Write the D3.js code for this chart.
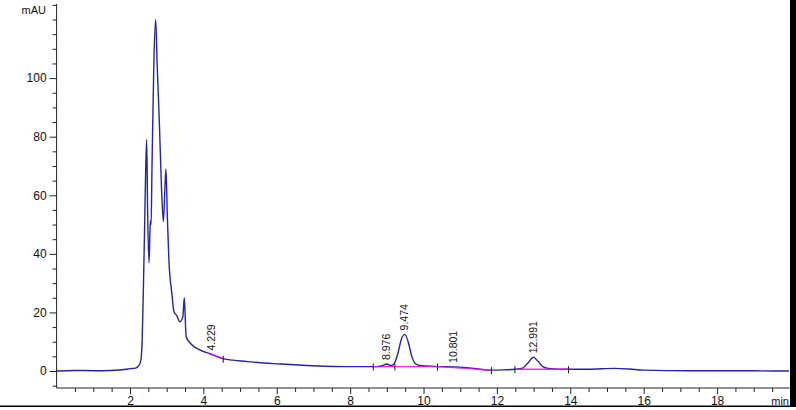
<!DOCTYPE html>
<html><head><meta charset="utf-8">
<script src="https://cdn.jsdelivr.net/npm/d3@7"></script>
<style>
html,body{margin:0;padding:0;background:#fff;}
svg{display:block;font-family:"Liberation Sans",Arial,sans-serif;}
</style></head>
<body>
<svg id="c" width="796" height="410"></svg>
<script>
// ---- data ----
const timeMin = [0.0,0.5,1.0,1.5,1.9,2.0,2.15,2.25,2.3,2.33,2.36,2.40,2.43,2.455,2.48,2.52,2.545,2.56,2.575,2.60,2.65,2.70,2.74,2.80,2.86,2.91,2.95,2.98,3.02,3.06,3.14,3.20,3.27,3.36,3.44,3.48,3.53,3.65,3.9,4.2,4.5,5.2,6.1,7.0,7.9,8.7,8.85,9.0,9.12,9.2,9.3,9.4,9.49,9.58,9.68,9.78,9.9,10.3,10.9,11.3,11.8,12.2,12.5,12.7,12.85,12.99,13.12,13.25,13.4,13.9,14.5,15.2,15.6,16.0,17.2,19.0,19.5,19.96];
const signal  = [0.0,0.2,0.1,0.2,0.6,0.8,1.0,2.0,4.0,10,25,50,70,79,55,37,48,51.5,50,70,105,120,105,85,62,51,62,69,52,38,26.6,20.2,19,16.8,18.5,25,11.7,9.4,7.2,5.8,4.3,3.2,2.4,1.8,1.5,1.5,1.7,2.4,1.8,2.5,6,11,12.5,10,5,2.5,1.9,1.6,1.4,1.0,0.3,0.4,0.6,1.0,2.8,4.7,3.3,1.5,0.9,0.6,0.6,0.9,0.7,0.3,0.1,0.1,0.0,0.0];

const peakRT     = [4.229, 8.976, 9.474, 10.801, 12.991];
const peakLabels = ["4.229","8.976","9.474","10.801","12.991"];
const peakApex   = [5.6, 2.4, 12.5, 1.4, 4.7];

const baseStartT = [4.13, 8.63, 10.38, 12.49];
const baseStartV = [6.1, 1.5, 1.5, 0.6];
const baseEndT   = [4.54, 10.38, 11.85, 13.95];
const baseEndV   = [4.2, 1.5, 0.3, 0.6];
const boundTickT = [4.54, 8.63, 9.22, 10.38, 11.85, 12.49, 13.95];
const boundTickV = [4.2, 1.5, 1.5, 1.5, 0.3, 0.6, 0.6];

const xTickLabels = [2,4,6,8,10,12,14,16,18];
const yTickLabels = [0,20,40,60,80,100];

// ---- layout ----
const svg = d3.select("#c");
const x = d3.scaleLinear().domain([0, 19.96]).range([56.6, 789]);
const y = d3.scaleLinear().domain([-5.8, 125.3]).range([388, 4]);

// axes
const xMinor = d3.range(0.5, 19.96, 0.5).filter(v => !xTickLabels.includes(v));
const yMinor = d3.range(-5, 126, 5).filter(v => !yTickLabels.includes(v));

const gx = svg.append("g").attr("transform","translate(0,388)");
gx.call(d3.axisBottom(x).tickValues(xTickLabels).tickSize(6).tickPadding(2).tickFormat(d3.format("d")));
gx.append("g").call(d3.axisBottom(x).tickValues(xMinor).tickSize(4).tickFormat(""));
gx.selectAll(".domain").remove();
gx.append("line").attr("x1", 56.6).attr("x2", 790).attr("y1",0).attr("y2",0).attr("stroke","#222");
gx.selectAll("text").attr("font-size",12).attr("fill","#111").attr("font-family","Liberation Sans, Arial, sans-serif");
gx.selectAll(".tick line").attr("stroke","#222");

const gy = svg.append("g").attr("transform","translate(56.6,0)");
gy.call(d3.axisLeft(y).tickValues(yTickLabels).tickSize(7).tickPadding(3).tickFormat(d3.format("d")));
gy.append("g").call(d3.axisLeft(y).tickValues(yMinor).tickSize(4).tickFormat(""));
gy.selectAll(".domain").remove();
gy.append("line").attr("x1",0).attr("x2",0).attr("y1",4).attr("y2",388).attr("stroke","#222");
gy.selectAll("text").attr("font-size",12).attr("fill","#111").attr("font-family","Liberation Sans, Arial, sans-serif");
gy.selectAll(".tick line").attr("stroke","#222");

svg.append("text").attr("x",46).attr("y",14).attr("text-anchor","end")
  .attr("font-size",11).attr("fill","#111").text("mAU");
svg.append("text").attr("x",789).attr("y",405).attr("text-anchor","end")
  .attr("font-size",11).attr("fill","#111").text("min");

// trace
const pts = timeMin.map((t,i)=>[t, signal[i]]);
const line = d3.line().x(d=>x(d[0])).y(d=>y(d[1])).curve(d3.curveMonotoneX);
svg.append("path").datum(pts).attr("d", line).attr("fill","none")
  .attr("stroke","#2424a6").attr("stroke-width",1.4).attr("stroke-linejoin","round");

// integration baselines
baseStartT.forEach((t,i)=>{
  svg.append("line").attr("x1",x(t)).attr("y1",y(baseStartV[i]))
    .attr("x2",x(baseEndT[i])).attr("y2",y(baseEndV[i]))
    .attr("stroke","#e010e0").attr("stroke-width",1.3).attr("opacity",0.85);
});
boundTickT.forEach((t,i)=>{
  svg.append("line").attr("x1",x(t)).attr("x2",x(t))
    .attr("y1",y(boundTickV[i])-3).attr("y2",y(boundTickV[i])+4)
    .attr("stroke","#111").attr("stroke-width",1);
});

// peak labels
peakRT.forEach((t,i)=>{
  const px = x(t), py = y(peakApex[i]) - 4;
  svg.append("text").attr("transform",`translate(${px},${py}) rotate(-90)`)
    .attr("dy","0.35em").attr("text-anchor","start")
    .attr("font-size",10.5).attr("fill","#111").text(peakLabels[i]);
});

// frame lines
svg.append("rect").attr("x",790).attr("y",0).attr("width",6).attr("height",407).attr("fill","#000");
svg.append("line").attr("x1",0).attr("x2",796).attr("y1",406.3).attr("y2",406.3).attr("stroke","#000").attr("stroke-width",1.5);
</script>
</body></html>
